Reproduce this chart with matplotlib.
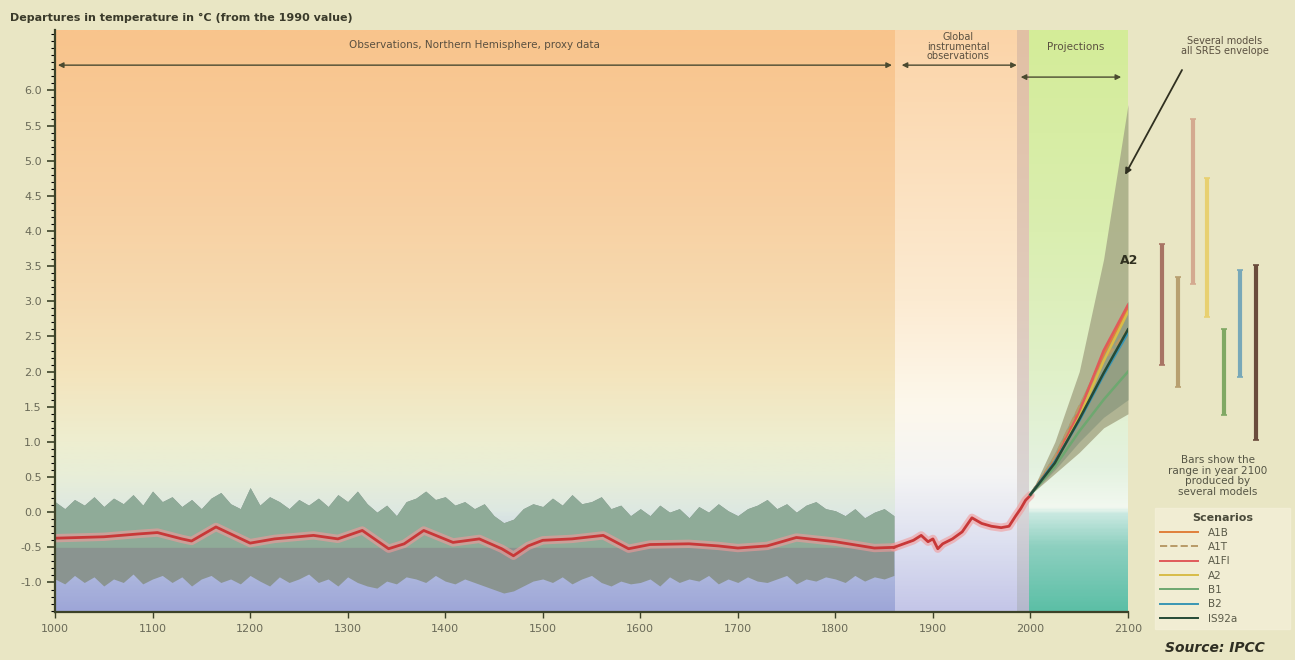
import numpy as np
import matplotlib.pyplot as plt
from matplotlib.colors import LinearSegmentedColormap
from matplotlib.lines import Line2D

plt.rcParams['axes.unicode_minus'] = False
plt.rcParams['font.family'] = 'DejaVu Sans'

# ---- data ----
# proxy data, Northern Hemisphere (10-year steps, 1000-1860)
proxy_years = np.arange(1000, 1861, 10)
proxy_upper = [0.15, 0.05, 0.18, 0.10, 0.22, 0.08, 0.20, 0.12, 0.25, 0.10,
               0.30, 0.15, 0.22, 0.08, 0.18, 0.05, 0.20, 0.28, 0.12, 0.05,
               0.35, 0.10, 0.22, 0.15, 0.05, 0.18, 0.10, 0.20, 0.08, 0.25,
               0.15, 0.30, 0.12, 0.00, 0.10, -0.05, 0.15, 0.20, 0.30, 0.18,
               0.22, 0.10, 0.15, 0.05, 0.12, -0.05, -0.15, -0.10, 0.05, 0.12,
               0.08, 0.20, 0.10, 0.25, 0.12, 0.15, 0.22, 0.05, 0.10, -0.05,
               0.05, -0.05, 0.10, 0.00, 0.05, -0.08, 0.08, 0.00, 0.12, 0.02,
               -0.05, 0.05, 0.10, 0.18, 0.05, 0.12, 0.00, 0.10, 0.15, 0.05,
               0.02, -0.05, 0.05, -0.08, 0.00, 0.05, -0.05]
proxy_lower = [-0.95, -1.02, -0.90, -1.00, -0.92, -1.05, -0.95, -1.00, -0.88, -1.02,
               -0.95, -0.90, -1.00, -0.92, -1.05, -0.95, -0.90, -1.00, -0.95, -1.02,
               -0.90, -0.98, -1.05, -0.92, -1.00, -0.95, -0.88, -1.00, -0.95, -1.05,
               -0.92, -1.00, -1.05, -1.08, -0.98, -1.02, -0.92, -0.95, -1.00, -0.90,
               -0.98, -1.02, -0.95, -1.00, -1.05, -1.10, -1.15, -1.12, -1.05, -0.98,
               -0.95, -1.00, -0.92, -1.02, -0.95, -0.90, -1.00, -1.05, -0.98, -1.02,
               -1.00, -0.95, -1.05, -0.92, -1.00, -0.95, -0.98, -0.90, -1.02, -0.95,
               -1.00, -0.92, -0.98, -1.00, -0.95, -0.90, -1.02, -0.95, -0.98, -0.92,
               -0.95, -1.00, -0.90, -0.98, -0.92, -0.95, -0.90]
band_split = -0.5

# smoothed proxy series
smooth_years = [1000, 1050, 1085, 1105, 1130, 1140, 1165, 1200, 1225, 1265, 1290,
                1315, 1342, 1358, 1378, 1408, 1435, 1458, 1470, 1485, 1500, 1530,
                1562, 1588, 1610, 1650, 1680, 1700, 1730, 1760, 1800, 1840, 1860]
smooth_vals = [-0.37, -0.35, -0.31, -0.29, -0.38, -0.41, -0.21, -0.44, -0.38, -0.33, -0.38,
               -0.26, -0.52, -0.45, -0.26, -0.43, -0.38, -0.52, -0.62, -0.48, -0.40, -0.38,
               -0.33, -0.52, -0.46, -0.45, -0.48, -0.51, -0.48, -0.36, -0.42, -0.51, -0.50]

# instrumental observations
instr_years = [1860, 1870, 1880, 1888, 1895, 1900, 1905, 1910, 1920, 1930,
               1940, 1950, 1960, 1970, 1978, 1985, 1990, 1995, 2000]
instr_vals = [-0.50, -0.45, -0.40, -0.33, -0.42, -0.38, -0.52, -0.45, -0.38, -0.28,
              -0.08, -0.16, -0.20, -0.22, -0.20, -0.05, 0.05, 0.17, 0.24]

# projections
proj_years = [2000, 2025, 2050, 2075, 2100]
env_upper = [0.25, 1.0, 2.0, 3.6, 5.8]
env_lower = [0.25, 0.55, 0.85, 1.2, 1.4]
models_upper = [0.25, 0.85, 1.55, 2.3, 3.0]
models_lower = [0.25, 0.6, 1.0, 1.35, 1.6]

scenarios = ['A1B', 'A1T', 'A1FI', 'A2', 'B1', 'B2', 'IS92a']
scen_vals = {
    'A1B':   [0.25, 0.75, 1.45, 2.25, 2.90],
    'A1T':   [0.25, 0.78, 1.50, 2.15, 2.60],
    'A1FI':  [0.25, 0.72, 1.42, 2.30, 2.95],
    'A2':    [0.25, 0.70, 1.35, 2.15, 2.85],
    'B1':    [0.25, 0.65, 1.15, 1.60, 2.00],
    'B2':    [0.25, 0.72, 1.30, 1.95, 2.55],
    'IS92a': [0.25, 0.70, 1.32, 1.98, 2.60],
}
line_colors = ['#e0803a', '#b89a68', '#e05a5a', '#d8bc48', '#6ea870', '#3a96b4', '#264a36']
line_styles = ['-', '--', '-', '-', '-', '-', '-']

# ranges in 2100 (bars)
bar_low = [2.10, 1.78, 3.24, 2.78, 1.38, 1.93, 1.03]
bar_high = [3.81, 3.35, 5.60, 4.75, 2.61, 3.45, 3.52]
bar_colors = ['#a87464', '#b8a070', '#d4aa90', '#e8d070', '#80a864', '#78a8b8', '#6a4c3c']

ymin, ymax = -1.42, 6.86
W, H = 1295, 660


def fx(px):
    return px / W


def fy(py):
    return 1 - py / H


def grad(ax, x0, x1, stops):
    pos = [(v - ymin) / (ymax - ymin) for v, c in stops]
    cols = [c for v, c in stops]
    cmap = LinearSegmentedColormap.from_list('g', list(zip(pos, cols)))
    img = np.linspace(0, 1, 400)[:, None]
    ax.imshow(img, extent=[x0, x1, ymin, ymax], origin='lower', aspect='auto',
              cmap=cmap, zorder=0, interpolation='bilinear')


fig = plt.figure(figsize=(W / 100, H / 100), dpi=100, facecolor='#e9e6c4')
ax = fig.add_axes([fx(55), fy(612), fx(1128) - fx(55), fy(30) - fy(612)])

# backgrounds
grad(ax, 1000, 1861, [(ymin, '#9ea6d8'), (-1.0, '#aab4dc'), (-0.5, '#c4d0e4'),
                      (0.0, '#dde8e2'), (0.5, '#e8eed8'), (1.0, '#eeeed0'),
                      (2.0, '#f4e4bc'), (3.0, '#f6dab0'), (4.5, '#f8cfa0'),
                      (ymax, '#f9c48c')])
grad(ax, 1861, 1986, [(ymin, '#c4c6e8'), (-0.5, '#dcdff0'), (0.5, '#f4f4f4'),
                      (1.5, '#fdf8ec'), (3.0, '#fcebd2'), (ymax, '#fbd4a8')])
grad(ax, 1986, 1999, [(ymin, '#b4b8cc'), (0.0, '#d8d6d8'), (3.0, '#e0cbbc'),
                      (ymax, '#e2c0a4')])
grad(ax, 1999, 2100, [(ymin, '#5cbfa6'), (-0.5, '#8ed0c0'), (-0.05, '#c8e8e0'),
                      (0.05, '#f2f8f0'), (0.6, '#e4f2e0'), (2.0, '#e0f0c8'),
                      (4.0, '#daeeb0'), (ymax, '#d4ec98')])

# proxy bands
up = np.array(proxy_upper)
lo = np.array(proxy_lower)
ax.fill_between(proxy_years, lo, up, color='#8a9490', lw=0, zorder=2)
ax.fill_between(proxy_years, np.maximum(lo, band_split), up, color='#8fab98', lw=0, zorder=2)

# smoothed proxy + instrumental line with glow
ax.plot(smooth_years, smooth_vals, color='#f29a9a', lw=6, alpha=0.6, zorder=3,
        solid_capstyle='round')
ax.plot(instr_years, instr_vals, color='#f29a9a', lw=6, alpha=0.6, zorder=3,
        solid_capstyle='round')
ax.plot(smooth_years, smooth_vals, color='#c83838', lw=2.0, zorder=4)
ax.plot(instr_years, instr_vals, color='#c83838', lw=2.0, zorder=4)

# projection envelopes
ax.fill_between(proj_years, env_lower, env_upper, color='#a8aa88', alpha=0.85, lw=0, zorder=2)
ax.fill_between(proj_years, models_lower, models_upper, color='#8e9a80', alpha=0.8, lw=0, zorder=2)
for name, c, ls in zip(scenarios, line_colors, line_styles):
    ax.plot(proj_years, scen_vals[name], color=c, lw=1.8, ls=ls, zorder=4)

# region arrows and labels
arr = dict(arrowstyle='<|-|>', color='#4a4a30', lw=1.0, mutation_scale=8, shrinkA=0, shrinkB=0)
ax.annotate('', xy=(1003, 6.36), xytext=(1858, 6.36), arrowprops=arr, zorder=5)
ax.annotate('', xy=(1868, 6.36), xytext=(1986, 6.36), arrowprops=arr, zorder=5)
ax.annotate('', xy=(1990, 6.19), xytext=(2093, 6.19), arrowprops=arr, zorder=5)
ax.text(1430, 6.64, 'Observations, Northern Hemisphere, proxy data', ha='center', va='center',
        fontsize=7.5, color='#5a5040', zorder=5)
ax.text(1926, 6.62, 'Global\ninstrumental\nobservations', ha='center', va='center',
        fontsize=7, color='#5a5040', linespacing=0.95, zorder=5)
ax.text(2046, 6.62, 'Projections', ha='center', va='center', fontsize=7.5,
        color='#5a5040', zorder=5)
ax.text(2092, 3.58, 'A2', ha='left', va='center', fontsize=9, fontweight='bold',
        color='#303020', zorder=6, clip_on=False)

# axes styling
ax.set_xlim(1000, 2100)
ax.set_ylim(ymin, ymax)
ax.set_xticks(np.arange(1000, 2101, 100))
ax.set_yticks(np.arange(-1.0, 6.01, 0.5))
ax.set_yticks(np.arange(-1.4, 6.81, 0.1), minor=True)
ax.yaxis.set_major_formatter(plt.FormatStrFormatter('%.1f'))
ax.tick_params(axis='both', labelsize=8, colors='#3c4228', labelcolor='#6a6a58')
ax.tick_params(axis='y', which='major', length=6, width=1.2)
ax.tick_params(axis='y', which='minor', length=3, width=0.8)
ax.tick_params(axis='x', length=4, width=1.0, pad=5)
for s in ['top', 'right']:
    ax.spines[s].set_visible(False)
for s in ['left', 'bottom']:
    ax.spines[s].set_color('#3c4228')
    ax.spines[s].set_linewidth(1.6)
ax.spines['left'].set_zorder(6)

# right panel with the 2100 range bars
ax2 = fig.add_axes([fx(1128), fy(612), fx(1295) - fx(1128), fy(30) - fy(612)])
ax2.set_xlim(0, 167)
ax2.set_ylim(ymin, ymax)
ax2.axis('off')
bar_x = [34, 50, 65, 79, 96, 112, 128]
ax2.vlines(bar_x, bar_low, bar_high, colors=bar_colors, lw=3.0)
ax2.hlines(bar_low, np.array(bar_x) - 3, np.array(bar_x) + 3, colors=bar_colors, lw=1.2)
ax2.hlines(bar_high, np.array(bar_x) - 3, np.array(bar_x) + 3, colors=bar_colors, lw=1.2)

# texts outside axes
fig.text(fx(10), fy(18), 'Departures in temperature in \u00b0C (from the 1990 value)',
         fontsize=8, fontweight='bold', color='#3a3a2a', va='center', ha='left')
fig.text(fx(1225), fy(46), 'Several models\nall SRES envelope', fontsize=7, color='#5a5040',
         ha='center', va='center', linespacing=1.1)
ax.annotate('', xy=(2097, 4.8), xycoords='data', xytext=(fx(1182), fy(70)),
            textcoords='figure fraction',
            arrowprops=dict(arrowstyle='-|>', color='#303020', lw=1.3, mutation_scale=9,
                            shrinkA=0, shrinkB=0), annotation_clip=False, zorder=7)
fig.text(fx(1218), fy(476), 'Bars show the\nrange in year 2100\nproduced by\nseveral models',
         fontsize=7.5, color='#555545', ha='center', va='center', linespacing=1.05)

handles = [Line2D([], [], color=c, ls=ls, lw=1.4) for c, ls in zip(line_colors, line_styles)]
leg = fig.legend(handles, scenarios, title='Scenarios', loc='upper left',
                 bbox_to_anchor=(fx(1155), fy(632), fx(1290) - fx(1155), fy(508) - fy(632)),
                 mode='expand', frameon=True, fontsize=7.5,
                 title_fontsize=8, handlelength=3.6, labelspacing=0.42,
                 borderpad=0.5, handletextpad=1.0, borderaxespad=0, fancybox=False)
leg.get_frame().set_facecolor('#f4f0d8')
leg.get_frame().set_edgecolor('#f4f0d8')
leg.get_title().set_fontweight('bold')
leg.get_title().set_color('#4a4a3a')
for t in leg.get_texts():
    t.set_color('#5a5a48')

fig.text(fx(1215), fy(648), 'Source: IPCC', fontsize=10, fontweight='bold', style='italic',
         color='#2e2e22', ha='center', va='center')

fig.savefig('out.png', dpi=100, facecolor=fig.get_facecolor())
